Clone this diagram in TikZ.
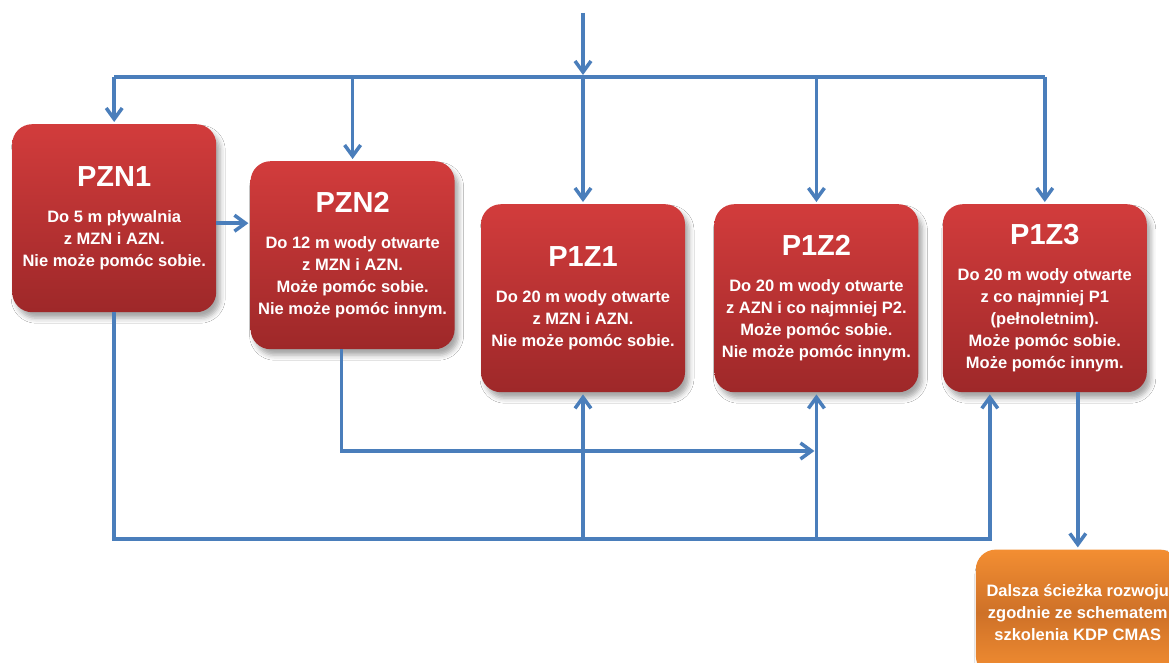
\documentclass[tikz,border=0pt]{standalone}
\usepackage{fontspec}
\setmainfont{Liberation Sans}
\usetikzlibrary{positioning}
\usetikzlibrary{arrows.meta}
\usetikzlibrary{shadows.blur}

\definecolor{linkblue}{RGB}{74,126,187}
\definecolor{boxtop}{RGB}{210,60,60}
\definecolor{boxbottom}{RGB}{158,40,41}
\definecolor{nexttop}{RGB}{243,142,50}
\definecolor{nextmid}{RGB}{206,113,40}

\newcommand{\levelname}[1]{{\fontsize{29}{30}\selectfont #1}}

\begin{document}
\begin{tikzpicture}[
  x=1pt, y=-1pt,
  font=\bfseries\fontsize{16.5}{22}\selectfont,
  level/.style={rounded corners=20pt,minimum width=204pt,minimum height=188pt,inner sep=0pt,text=white,
    top color=boxtop,bottom color=boxbottom,
    blur shadow={shadow xshift=4pt,shadow yshift=-6pt,shadow blur radius=5pt,shadow opacity=35}},
  next/.style={level,minimum height=126pt,top color=nexttop,bottom color=nexttop,middle color=nextmid},
  link/.style={draw=linkblue,line width=3.5pt},
  flow/.style={link,->,>={Straight Barb[length=11pt,width=16pt]},shorten >=2pt},
  every node/.style={align=center}]

  \useasboundingbox (0,0) rectangle (1169,663);
  \fill[white] (0,0) rectangle (1169,663);

  \node[level,anchor=north west] (pzn1) at (12,124)
    {\levelname{PZN1}\\[14pt]Do 5 m pływalnia\\z MZN i AZN.\\Nie może pomóc sobie.};
  \node[level,right=34pt of pzn1,yshift=-37pt] (pzn2)
    {\levelname{PZN2}\\[14pt]Do 12 m wody otwarte\\z MZN i AZN.\\Może pomóc sobie.\\Nie może pomóc innym.};
  \node[level,right=26pt of pzn2,yshift=-43pt] (p1z1)
    {\levelname{P1Z1}\\[14pt]Do 20 m wody otwarte\\z MZN i AZN.\\Nie może pomóc sobie.};
  \node[level,right=29pt of p1z1] (p1z2)
    {\levelname{P1Z2}\\[14pt]Do 20 m wody otwarte\\z AZN i co najmniej P2.\\Może pomóc sobie.\\Nie może pomóc innym.};
  \node[level,right=24pt of p1z2] (p1z3)
    {\levelname{P1Z3}\\[14pt]Do 20 m wody otwarte\\z co najmniej P1\\(pełnoletnim).\\Może pomóc sobie.\\Może pomóc innym.};
  \node[next,below=157pt of p1z3,xshift=33pt] (cmas)
    {Dalsza ścieżka rozwoju\\zgodnie ze schematem\\szkolenia KDP CMAS};

  \coordinate (bus) at (0,77);
  \coordinate (pass) at (0,451);
  \coordinate (loop) at (0,539);

  % top: one entry, split to every level
  \draw[flow] (p1z1.north |- 0,13) -- (p1z1.north |- bus);
  \draw[link] (pzn1.north |- bus) -- (p1z3.north |- bus);
  \foreach \n in {pzn1,pzn2,p1z1,p1z2,p1z3}
    \draw[flow] (\n.north |- bus) -- (\n.north);

  \draw[flow] ([yshift=-5pt]pzn1.east) -- ([yshift=-5pt]pzn1.east -| pzn2.west);

  % bottom: ways up
  \draw[flow] (pzn1.south) -- (pzn1.south |- loop) -| ([xshift=-55pt]p1z3.south);
  \draw[flow] (p1z1.south |- loop) -- (p1z1.south);
  \draw[flow] (p1z2.south |- loop) -- (p1z2.south);
  \draw[flow] ([xshift=-11pt]pzn2.south) |- (p1z2.south |- pass);
  \draw[flow] (cmas.north |- p1z3.south) -- (cmas.north);
\end{tikzpicture}
\end{document}
